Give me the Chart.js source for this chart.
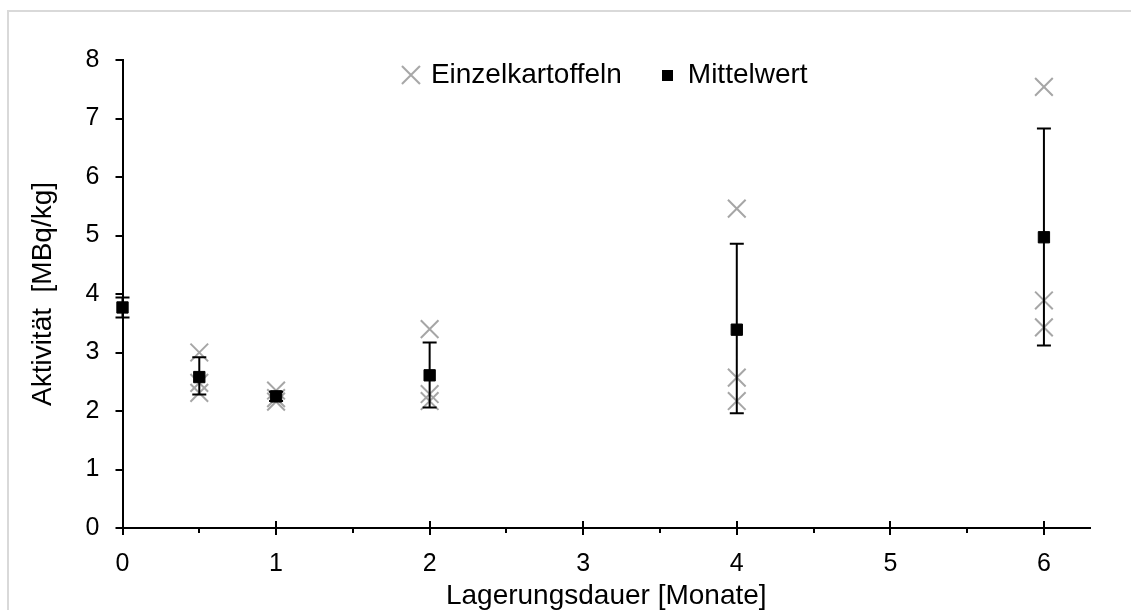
<!DOCTYPE html>
<html><head><meta charset="utf-8">
<script src="https://cdn.jsdelivr.net/npm/chart.js@4.4.1/dist/chart.umd.min.js"></script>
<style>
html,body{margin:0;padding:0;background:#fff;overflow:hidden;width:1131px;height:610px;}
#frame{position:absolute;left:7px;top:10px;width:1250px;height:700px;border:2px solid #d9d9d9;box-sizing:border-box;}
#c{position:absolute;left:0;top:0;}
</style></head><body>
<div id="frame"></div>
<canvas id="c" width="1131" height="610"></canvas>
<script>
// ---- data ----
const xMajorTicks = [0, 1, 2, 3, 4, 5, 6];
const xMinorTicks = [0.5, 1.5, 2.5, 3.5, 4.5, 5.5];
const meanMonths  = [0, 0.5, 1, 2, 4, 6];
const meanValues  = [3.77, 2.58, 2.25, 2.61, 3.39, 4.97];
const errLow      = [3.60, 2.28, 2.17, 2.06, 1.96, 3.12];
const errHigh     = [3.94, 2.92, 2.33, 3.17, 4.86, 6.83];
const singleMonths = [0.5, 0.5, 0.5, 1, 1, 1, 2, 2, 2, 4, 4, 4, 6, 6, 6];
const singleValues = [3.00, 2.48, 2.31, 2.35, 2.22, 2.16, 3.40, 2.29, 2.17, 5.46, 2.57, 2.17, 7.54, 3.89, 3.43];

const FONT = "'Liberation Sans', Arial, sans-serif";
const GRAY = '#a6a6a6';
Chart.defaults.font.family = FONT;
Chart.defaults.color = '#000';

function crossImg(){
  const c = document.createElement('canvas'); c.width = 20; c.height = 20;
  const g = c.getContext('2d'); g.strokeStyle = GRAY; g.lineWidth = 2;
  g.beginPath(); g.moveTo(1,1); g.lineTo(19,19); g.moveTo(19,1); g.lineTo(1,19); g.stroke();
  return c;
}
function squareImg(){
  const c = document.createElement('canvas'); c.width = 11; c.height = 11;
  const g = c.getContext('2d'); g.fillStyle = '#000'; g.fillRect(0,0,11,11);
  return c;
}
const legendImgs = [crossImg(), squareImg()];

const errorBars = {
  id: 'errorBars',
  beforeDatasetDraw(chart, args){
    if (args.index !== 1) return;
    const xs = chart.scales.x, ys = chart.scales.y, ctx = chart.ctx;
    ctx.save(); ctx.strokeStyle = '#000'; ctx.lineWidth = 2;
    ctx.beginPath();
    meanMonths.forEach((m, i) => {
      const px = xs.getPixelForValue(m);
      const lo = ys.getPixelForValue(errLow[i]);
      const hi = ys.getPixelForValue(errHigh[i]);
      ctx.moveTo(px, lo); ctx.lineTo(px, hi);
      ctx.moveTo(px - 7, lo); ctx.lineTo(px + 7, lo);
      ctx.moveTo(px - 7, hi); ctx.lineTo(px + 7, hi);
    });
    ctx.stroke(); ctx.restore();
  }
};

const axisTicks = {
  id: 'axisTicks',
  afterDraw(chart){
    const xs = chart.scales.x, ctx = chart.ctx, yb = chart.chartArea.bottom;
    ctx.save(); ctx.strokeStyle = '#000'; ctx.lineWidth = 2; ctx.beginPath();
    xMajorTicks.forEach(v => { const px = Math.round(xs.getPixelForValue(v)); ctx.moveTo(px, yb - 7); ctx.lineTo(px, yb); });
    xMinorTicks.forEach(v => { const px = Math.round(xs.getPixelForValue(v)); ctx.moveTo(px, yb); ctx.lineTo(px, yb + 5); });
    ctx.stroke(); ctx.restore();
  }
};

const legendPlace = {
  id: 'legendPlace',
  afterLayout(chart){
    const l = chart.legend, ca = chart.chartArea;
    if (!l) return;
    const h = l.height;
    l.left = ca.left; l.right = ca.right; l.width = ca.right - ca.left;
    l.top = 21; l.bottom = 21 + h;
  }
};

new Chart(document.getElementById('c'), {
  type: 'scatter',
  data: {
    datasets: [
      {
        label: 'Einzelkartoffeln',
        data: singleMonths.map((m, i) => ({x: m, y: singleValues[i]})),
        pointStyle: 'crossRot', pointRadius: 12.5, pointHoverRadius: 12.5,
        borderColor: GRAY, backgroundColor: GRAY, pointBorderWidth: 2,
        clip: false, order: 1
      },
      {
        label: 'Mittelwert',
        data: meanMonths.map((m, i) => ({x: m, y: meanValues[i]})),
        pointStyle: 'rect', pointRadius: 8, pointHoverRadius: 8,
        borderColor: '#000', backgroundColor: '#000', pointBorderWidth: 1,
        clip: false, order: 0
      }
    ]
  },
  options: {
    responsive: false, animation: false,
    layout: { padding: { left: 26, right: 41, top: -18, bottom: 0 } },
    plugins: {
      tooltip: { enabled: false },
      legend: {
        position: 'top',
        labels: {
          usePointStyle: true, pointStyleWidth: 12, boxHeight: 12, padding: 40,
          color: '#000', font: { family: FONT, size: 28 },
          generateLabels(chart){
            const items = Chart.defaults.plugins.legend.labels.generateLabels(chart);
            items.sort((a, b) => a.datasetIndex - b.datasetIndex);
            items.forEach(it => { it.pointStyle = legendImgs[it.datasetIndex]; });
            return items;
          }
        }
      }
    },
    scales: {
      x: {
        type: 'linear', min: 0, max: 6.3,
        afterBuildTicks(s){ s.ticks = xMajorTicks.map(v => ({value: v})); },
        afterFit(s){ s.height = 82; },
        ticks: { padding: 14, color: '#000', font: { family: FONT, size: 25 }, maxRotation: 0 },
        grid: { drawOnChartArea: false, drawTicks: true, tickLength: 7, color: '#000', lineWidth: 2 },
        border: { display: true, color: '#000', width: 2 },
        title: { display: true, text: 'Lagerungsdauer [Monate]', color: '#000', font: { family: FONT, size: 28, lineHeight: 1 }, padding: 0 }
      },
      y: {
        min: 0, max: 8,
        afterFit(s){ s.width = 96.5; },
        ticks: { stepSize: 1, padding: 16, color: '#000', font: { family: FONT, size: 25 } },
        grid: { drawOnChartArea: false, drawTicks: true, tickLength: 7, color: '#000', lineWidth: 2 },
        border: { display: true, color: '#000', width: 2 },
        title: { display: true, text: 'Aktivität  [MBq/kg]', color: '#000', font: { family: FONT, size: 28, lineHeight: 1.2 }, padding: 0 }
      }
    }
  },
  plugins: [errorBars, axisTicks, legendPlace]
});
</script>
</body></html>
